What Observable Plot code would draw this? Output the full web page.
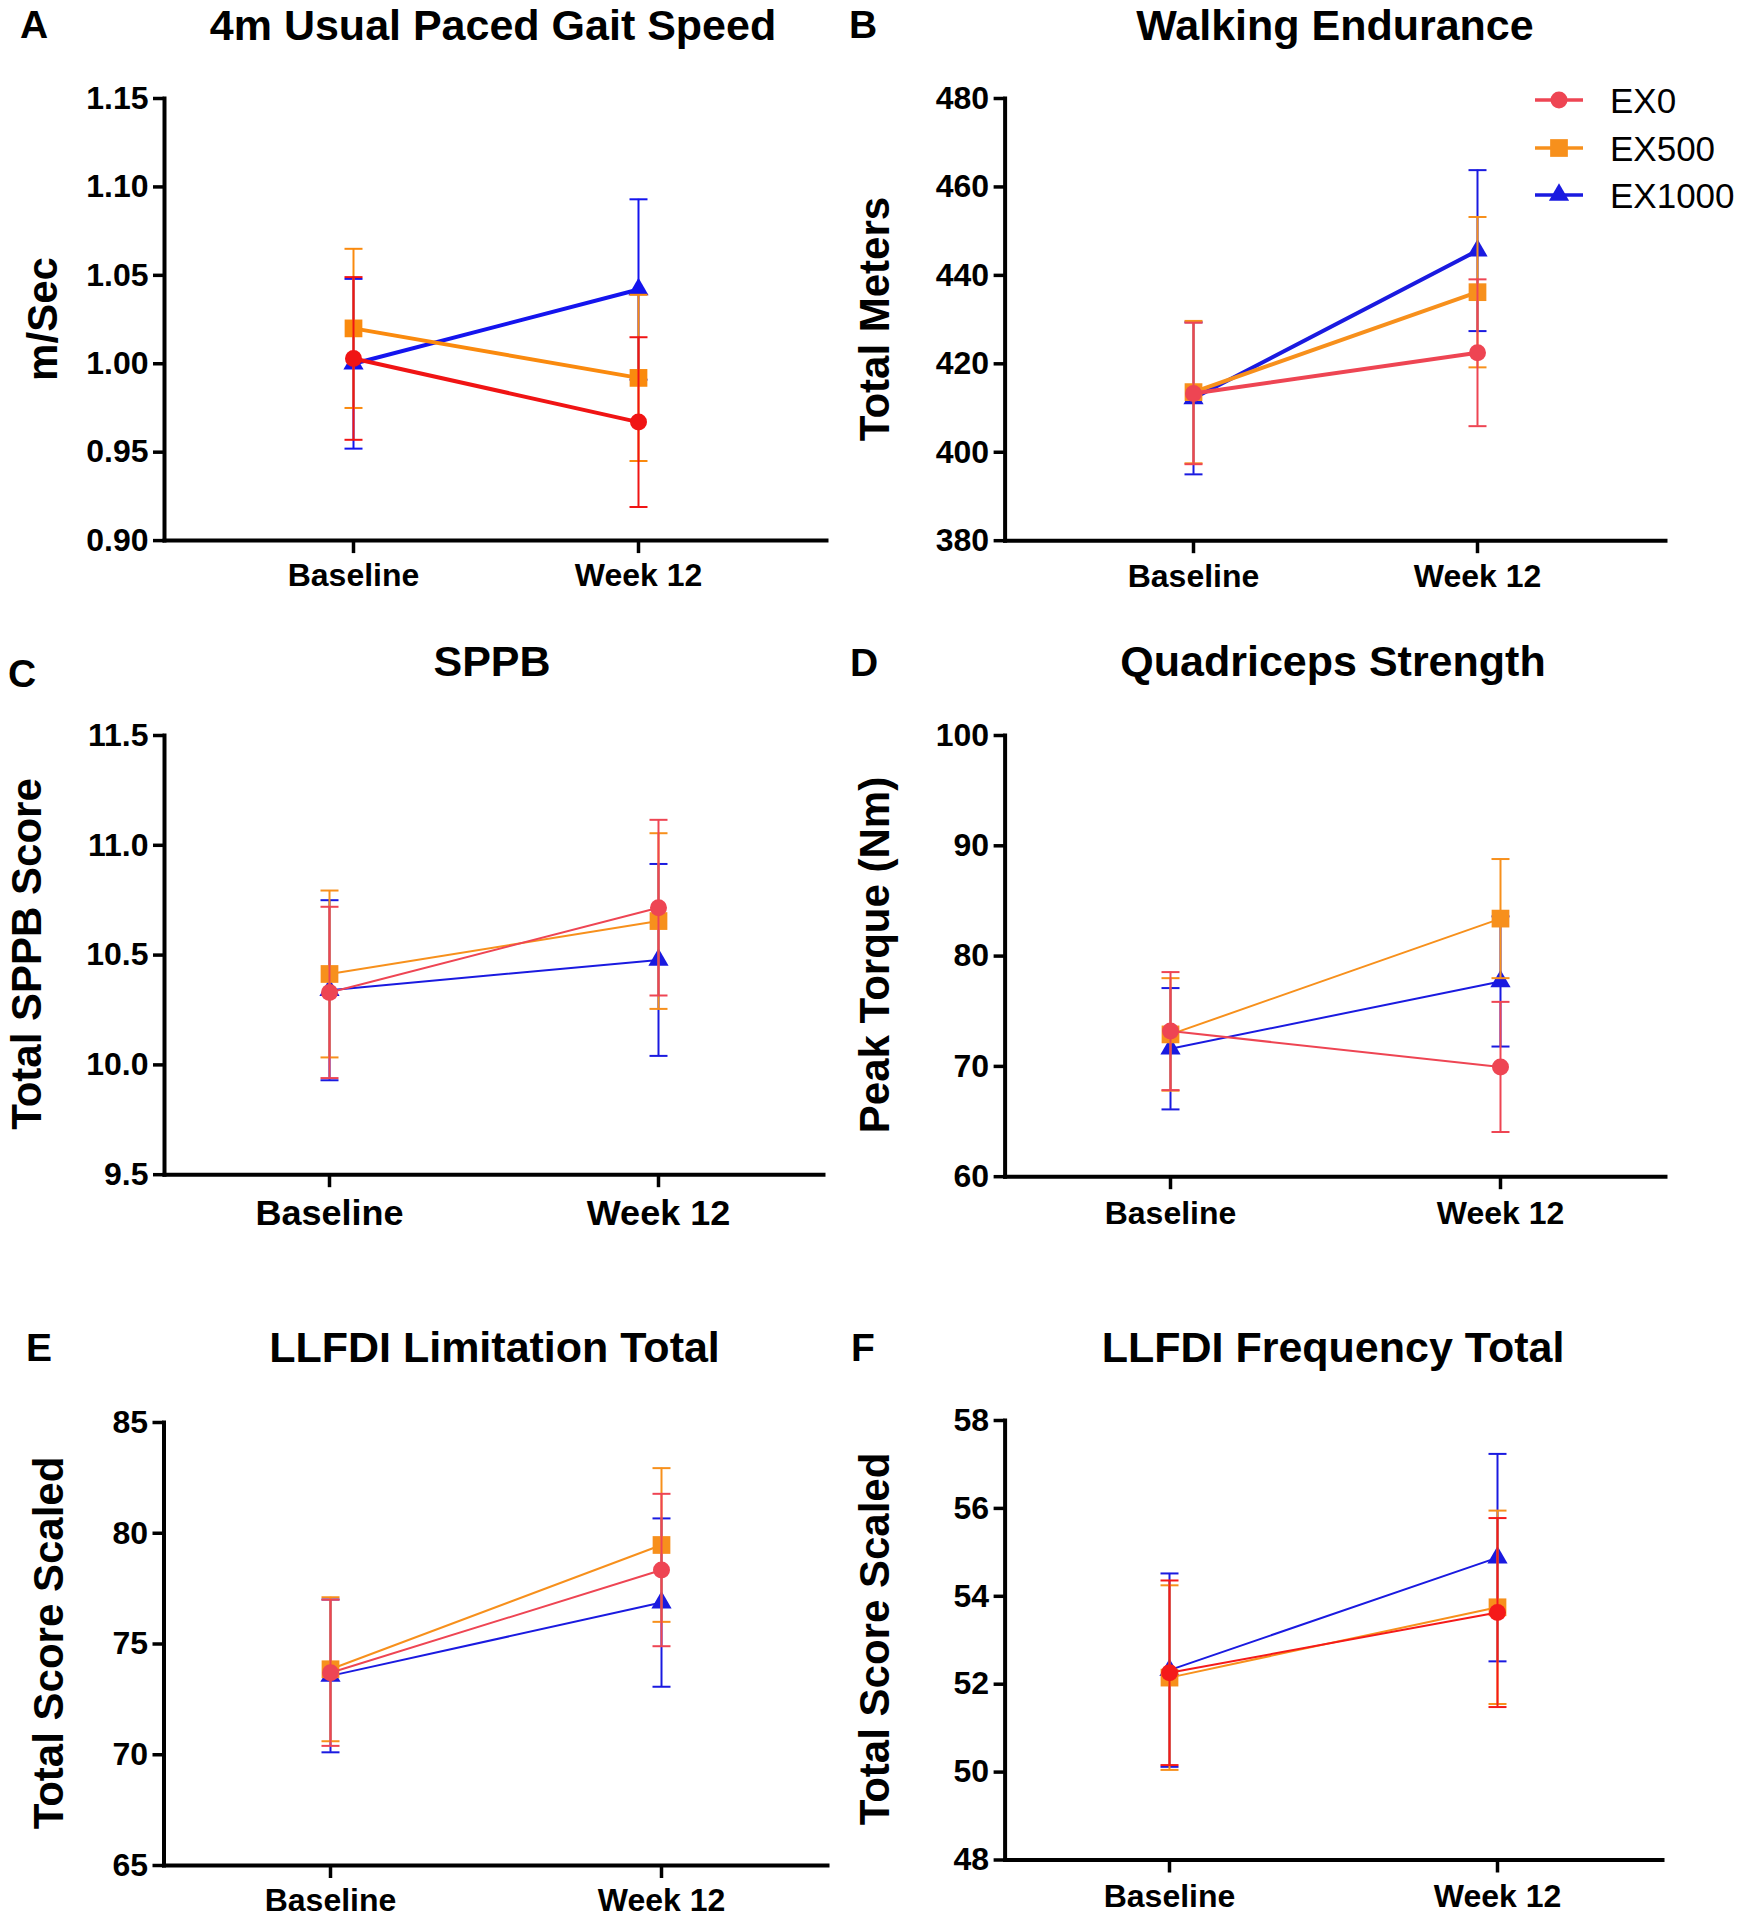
<!DOCTYPE html>
<html>
<head>
<meta charset="utf-8">
<script src="https://cdn.jsdelivr.net/npm/d3@7"></script>
<script src="https://cdn.jsdelivr.net/npm/@observablehq/plot@0.6"></script>
<style>
  html, body { margin: 0; padding: 0; background: #fff; }
  body { width: 1741px; height: 1920px; position: relative; overflow: hidden;
         font-family: "Liberation Sans", Arial, sans-serif; color: #000; }
  .abs { position: absolute; white-space: nowrap; line-height: 1; }
  .title { font-weight: bold; font-size: 43px; transform: translate(-50%, -50%); }
  .letter { font-weight: bold; font-size: 39px; transform: translate(-50%, -50%); }
  .ytitle { font-weight: bold; font-size: 42px; transform: translate(-50%, -50%) rotate(-90deg); }
  .legtext { font-size: 35px; transform: translateY(-50%); }
  .panel { position: absolute; }
</style>
</head>
<body>
<script>
// ---------------- DATA ----------------
const timepoints = ["Baseline", "Week 12"];
const groups = ["EX0", "EX500", "EX1000"];

// A: 4m usual paced gait speed (m/Sec); rows EX0, EX500, EX1000; cols Baseline, Week 12
const gaitSpeedMean = [[1.003, 0.967], [1.020, 0.992], [1.000, 1.042]];
const gaitSpeedSEM  = [[0.046, 0.048], [0.045, 0.047], [0.048, 0.051]];
const gaitSpeedTicks = [0.90, 0.95, 1.00, 1.05, 1.10, 1.15];

// B: walking endurance (total meters)
const enduranceMean = [[413.3, 422.5], [413.6, 436.2], [412.2, 445.6]];
const enduranceSEM  = [[16.0, 16.6], [16.1, 17.0], [17.2, 18.2]];
const enduranceTicks = [380, 400, 420, 440, 460, 480];

// C: SPPB total score
const sppbMean = [[10.33, 10.716], [10.414, 10.655], [10.34, 10.478]];
const sppbSEM  = [[0.39, 0.40], [0.38, 0.40], [0.41, 0.437]];
const sppbTicks = [9.5, 10.0, 10.5, 11.0, 11.5];

// D: quadriceps strength (peak torque, Nm)
const quadMean = [[73.2, 69.95], [72.9, 83.4], [71.6, 77.7]];
const quadSEM  = [[5.35, 5.9], [5.1, 5.4], [5.5, 5.9]];
const quadTicks = [60, 70, 80, 90, 100];

// E: LLFDI limitation total (scaled)
const limitationMean = [[73.7, 78.34], [73.86, 79.47], [73.56, 76.87]];
const limitationSEM  = [[3.3, 3.44], [3.25, 3.47], [3.45, 3.8]];
const limitationTicks = [65, 70, 75, 80, 85];

// F: LLFDI frequency total (scaled)
const frequencyMean = [[52.26, 53.63], [52.15, 53.75], [52.32, 54.88]];
const frequencySEM  = [[2.1, 2.15], [2.1, 2.2], [2.2, 2.36]];
const frequencyTicks = [48, 50, 52, 54, 56, 58];

// ---------------- STYLE / LAYOUT ----------------
const FONT = '"Liberation Sans", Arial, sans-serif';
const colorsBright = ["#f01414", "#fa8a0e", "#1414ee"];
const colorsSoft   = ["#ee4553", "#f7901c", "#1a1ae0"];
const shapes = ["circle", "square", "triangle"];
const shapeR = [8.5, 10, 7.5];
const capSymbol = { draw(ctx, size) { const w = Math.sqrt(size / Math.PI); ctx.moveTo(-w, 0); ctx.lineTo(w, 0); } };

const panels = [
  { key: "A", title: "4m Usual Paced Gait Speed", ylabel: "m/Sec", means: gaitSpeedMean, sems: gaitSpeedSEM, ticks: gaitSpeedTicks, fmt: d3.format(".2f"),
    left: 0, width: 860, x0: 164, x1: 826, yTop: 98.4, yBot: 540.5, pad: 0.66, xpad: 10, xfs: 32, lineW: 4, errW: 2, colors: colorsBright,
    titleXY: [493, 24.5], letterXY: [34, 24], ytitleXY: [43, 319] },
  { key: "B", title: "Walking Endurance", ylabel: "Total Meters", means: enduranceMean, sems: enduranceSEM, ticks: enduranceTicks, fmt: d3.format("d"),
    left: 850, width: 891, x0: 1004.6, x1: 1665, yTop: 97.5, yBot: 539.7, pad: 0.66, xpad: 11, xfs: 32, lineW: 4, errW: 2, colors: colorsSoft,
    titleXY: [1335, 24.5], letterXY: [863, 24], ytitleXY: [875, 318.5] },
  { key: "C", title: "SPPB", ylabel: "Total SPPB Score", means: sppbMean, sems: sppbSEM, ticks: sppbTicks, fmt: d3.format(".1f"),
    left: 0, width: 860, x0: 164, x1: 823, yTop: 734.8, yBot: 1174, pad: 0.5, xpad: 12, xfs: 36, lineW: 2, errW: 2, colors: colorsSoft,
    titleXY: [492, 661], letterXY: [22, 673], ytitleXY: [27, 954] },
  { key: "D", title: "Quadriceps Strength", ylabel: "Peak Torque (Nm)", means: quadMean, sems: quadSEM, ticks: quadTicks, fmt: d3.format("d"),
    left: 850, width: 891, x0: 1004.6, x1: 1665, yTop: 734.8, yBot: 1176, pad: 0.5, xpad: 12, xfs: 32, lineW: 2, errW: 2, colors: colorsSoft,
    titleXY: [1333, 661], letterXY: [864, 662], ytitleXY: [875, 955] },
  { key: "E", title: "LLFDI Limitation Total", ylabel: "Total Score Scaled", means: limitationMean, sems: limitationSEM, ticks: limitationTicks, fmt: d3.format("d"),
    left: 0, width: 860, x0: 163.5, x1: 827, yTop: 1422, yBot: 1865, pad: 0.5, xpad: 10, xfs: 32, lineW: 2, errW: 2, colors: colorsSoft,
    titleXY: [494.5, 1347], letterXY: [39, 1347], ytitleXY: [49, 1643] },
  { key: "F", title: "LLFDI Frequency Total", ylabel: "Total Score Scaled", means: frequencyMean, sems: frequencySEM, ticks: frequencyTicks, fmt: d3.format("d"),
    left: 850, width: 891, x0: 1004.6, x1: 1662, yTop: 1419.5, yBot: 1859, pad: 0.5, xpad: 11, xfs: 32, lineW: 2, errW: 2, colors: ["#f51a1a", "#f7901c", "#1a1ae0"],
    titleXY: [1333, 1347], letterXY: [863, 1347], ytitleXY: [875, 1639] }
];

function buildRows(means, sems) {
  const rows = [];
  groups.forEach((g, gi) => timepoints.forEach((t, ti) => {
    const m = means[gi][ti], s = sems[gi][ti];
    rows.push({ group: g, gi, time: t, mean: m, lo: m - s, hi: m + s });
  }));
  return rows;
}

function addText(cls, text, x, y) {
  const el = document.createElement("div");
  el.className = "abs " + cls;
  el.textContent = text;
  el.style.left = x + "px";
  el.style.top = y + "px";
  document.body.appendChild(el);
  return el;
}

for (const p of panels) {
  const rows = buildRows(p.means, p.sems);
  const svgTop = p.yTop - 40;
  const height = (p.yBot - svgTop) + 75;
  const marks = [];
  for (const gi of [2, 1, 0]) {
    const d = rows.filter(r => r.gi === gi);
    const c = p.colors[gi];
    marks.push(
      Plot.ruleX(d, { x: "time", y1: "lo", y2: "hi", stroke: c, strokeWidth: p.errW }),
      Plot.dot(d, { x: "time", y: "lo", symbol: capSymbol, r: 9, stroke: c, fill: "none", strokeWidth: p.errW }),
      Plot.dot(d, { x: "time", y: "hi", symbol: capSymbol, r: 9, stroke: c, fill: "none", strokeWidth: p.errW }),
      Plot.line(d, { x: "time", y: "mean", stroke: c, strokeWidth: p.lineW }),
      Plot.dot(d, { x: "time", y: "mean", symbol: shapes[gi], r: shapeR[gi], fill: c, stroke: "none" })
    );
  }
  const chart = Plot.plot({
    width: p.width,
    height,
    marginLeft: p.x0 - p.left,
    marginRight: p.left + p.width - p.x1,
    marginTop: p.yTop - svgTop,
    marginBottom: height - (p.yBot - svgTop),
    style: { background: "transparent", fontFamily: FONT, overflow: "visible", color: "#000" },
    x: { type: "point", domain: timepoints, padding: p.pad },
    y: { domain: [p.ticks[0], p.ticks[p.ticks.length - 1]] },
    marks: [
      Plot.axisY({ ticks: p.ticks, tickFormat: p.fmt, tickSize: 11, tickPadding: 5, fontSize: 32, fontWeight: "bold", strokeWidth: 3.5, label: null }),
      Plot.axisX({ tickSize: 13, tickPadding: p.xpad, fontSize: p.xfs, fontWeight: "bold", strokeWidth: 3.5, label: null }),
      ...marks,
      Plot.frame({ anchor: "left", strokeWidth: 4 }),
      Plot.frame({ anchor: "bottom", strokeWidth: 4 })
    ]
  });
  const wrap = document.createElement("div");
  wrap.className = "panel";
  wrap.style.left = p.left + "px";
  wrap.style.top = svgTop + "px";
  wrap.style.width = p.width + "px";
  wrap.appendChild(chart);
  document.body.appendChild(wrap);

  addText("title", p.title, p.titleXY[0], p.titleXY[1]);
  addText("letter", p.key, p.letterXY[0], p.letterXY[1]);
  addText("ytitle", p.ylabel, p.ytitleXY[0], p.ytitleXY[1]);
}

// Legend (panel B)
const legendY = [100, 148, 195];
groups.forEach((g, gi) => {
  const c = colorsSoft[gi];
  const box = document.createElement("div");
  box.className = "abs";
  box.style.left = "1530px";
  box.style.top = (legendY[gi] - 15) + "px";
  const svg = d3.create("svg").attr("width", 60).attr("height", 30);
  svg.append("line").attr("x1", 5).attr("x2", 53).attr("y1", 15).attr("y2", 15)
    .attr("stroke", c).attr("stroke-width", 3.5);
  svg.append("path").attr("transform", "translate(29,15)")
    .attr("d", d3.symbol(gi === 0 ? d3.symbolCircle : gi === 1 ? d3.symbolSquare : d3.symbolTriangle, Math.PI * shapeR[gi] * shapeR[gi])())
    .attr("fill", c);
  box.appendChild(svg.node());
  document.body.appendChild(box);
  addText("legtext", g, 1610, legendY[gi]);
});
</script>
</body>
</html>
